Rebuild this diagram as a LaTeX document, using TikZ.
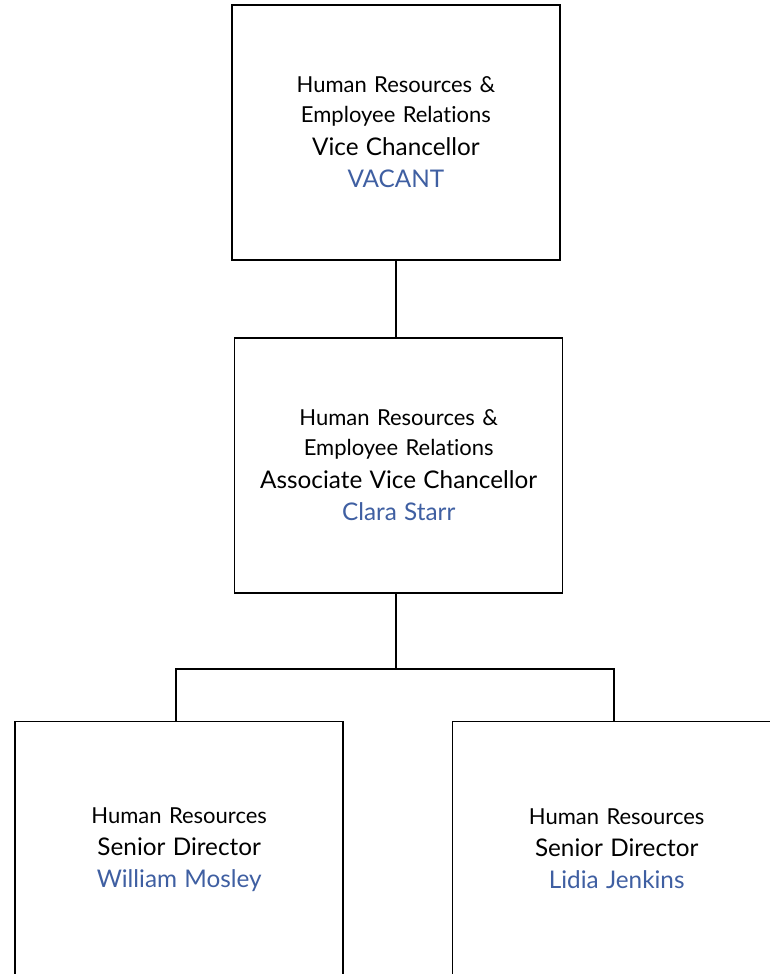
\documentclass[tikz,border=0pt]{standalone}
\usepackage{fontspec}
\setmainfont{Lato}[Ligatures=NoCommon]
\definecolor{nameblue}{HTML}{3F5FA2}
\newcommand\linesm{\fontsize{22}{30}\selectfont}
\newcommand\linelg{\fontsize{24.3}{30}\selectfont}
\begin{document}
\begin{tikzpicture}[x=1pt,y=-1pt,
  box/.style={draw, line width=1.5pt, minimum width=328pt, minimum height=255pt,
    inner sep=0pt, align=center, text width=320pt, font=\linesm},
  link/.style={line width=1.5pt}]
\useasboundingbox (0,0) rectangle (770,974);
\clip (0,0) rectangle (770,974);
\fill[white] (0,0) rectangle (770,974);
\node[box] (top) at (395.9,132.5) {\linesm Human Resources \&\\ Employee Relations\\[3pt] \linelg Vice Chancellor\\[2pt] \textcolor{nameblue}{VACANT}\par};
\node[box] (mid) at (398.7,465.5) {\linesm Human Resources \&\\ Employee Relations\\[3pt] \linelg Associate Vice Chancellor\\[2pt] \textcolor{nameblue}{Clara Starr}\par};
\node[box] (bl) at (179.2,849.2) {\linesm Human Resources\\[2pt] \linelg Senior Director\\[2pt] \textcolor{nameblue}{William Mosley}\par};
\node[box] (br) at (616.7,849.2) {\linesm Human Resources\\[2pt] \linelg Senior Director\\[2pt] \textcolor{nameblue}{Lidia Jenkins}\par};
\coordinate (j) at (396,669);
\coordinate (jl) at (176,669);
\coordinate (jr) at (614,669);
\draw[link] (top.south) -- (top.south |- mid.north);
\draw[link] (j |- mid.south) -- (j);
\draw[link] (jl |- bl.north) -- (jl) -- (jr) -- (jr |- br.north);
\end{tikzpicture}
\end{document}
